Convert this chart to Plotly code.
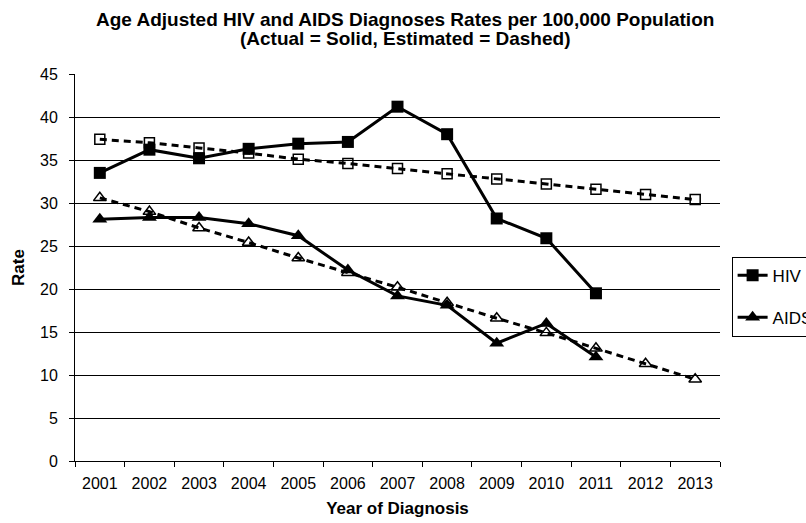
import plotly.graph_objects as go

years = ["2001", "2002", "2003", "2004", "2005", "2006", "2007",
         "2008", "2009", "2010", "2011", "2012", "2013"]

hiv_actual = [33.5, 36.2, 35.2, 36.3, 36.9, 37.1, 41.2, 38.0, 28.2, 25.9, 19.5]
hiv_estimated = [37.4, 37.0, 36.4, 35.8, 35.1, 34.6, 34.0, 33.4, 32.8, 32.2, 31.6, 31.0, 30.4]
aids_actual = [28.1, 28.3, 28.3, 27.6, 26.2, 22.2, 19.2, 18.1, 13.7, 16.0, 12.1]
aids_estimated = [30.6, 29.0, 27.1, 25.4, 23.6, 21.9, 20.2, 18.4, 16.6, 14.9, 13.1, 11.3, 9.5]

title_lines = ["Age Adjusted HIV and AIDS Diagnoses Rates per 100,000 Population",
               "(Actual = Solid, Estimated = Dashed)"]

FONT = "Liberation Sans, Arial, sans-serif"
DASH = "7px,5px"

fig = go.Figure()

# Estimated series (dashed, open markers) drawn first so actuals sit on top
fig.add_trace(go.Scatter(
    x=years, y=hiv_estimated, mode="lines+markers", showlegend=False,
    line=dict(color="black", width=3, dash=DASH),
    marker=dict(symbol="square-open", size=10, color="black", line=dict(width=1.5)),
))
fig.add_trace(go.Scatter(
    x=years, y=aids_estimated, mode="lines+markers", showlegend=False,
    line=dict(color="black", width=3, dash=DASH),
    marker=dict(symbol="triangle-up-open", size=11, color="black", line=dict(width=1.5)),
))

# Actual series (solid, filled markers)
fig.add_trace(go.Scatter(
    x=years[:len(hiv_actual)], y=hiv_actual, mode="lines+markers", name="HIV",
    legendgroup="hiv",
    line=dict(color="black", width=3),
    marker=dict(symbol="square", size=12, color="black"),
))
fig.add_trace(go.Scatter(
    x=years[:len(aids_actual)], y=aids_actual, mode="lines+markers", name="AIDS",
    legendgroup="aids",
    line=dict(color="black", width=3),
    marker=dict(symbol="triangle-up", size=13, color="black"),
))

# Two-line chart title, set as annotations for tighter line spacing
for text, ypos in zip(title_lines, [1.140, 1.091]):
    fig.add_annotation(
        text=f"<b>{text}</b>", xref="paper", yref="paper",
        x=0.512, y=ypos, xanchor="center", yanchor="middle",
        showarrow=False, font=dict(family=FONT, size=19, color="black"),
    )

fig.update_layout(
    width=806, height=523,
    margin=dict(l=75, r=86, t=74, b=62, autoexpand=False),
    paper_bgcolor="white", plot_bgcolor="white",
    font=dict(family=FONT, size=16, color="black"),
    legend=dict(
        x=1.018, xanchor="left", y=0.528, yanchor="top",
        bordercolor="black", borderwidth=1, bgcolor="white",
        font=dict(family=FONT, size=17, color="black"),
        traceorder="grouped", tracegroupgap=17,
    ),
    showlegend=True,
)

fig.update_xaxes(
    type="category", categoryorder="array", categoryarray=years,
    range=[-0.5, 12.5],
    showline=True, linecolor="black", linewidth=1,
    ticks="outside", tickson="boundaries", ticklen=5, tickcolor="black",
    showgrid=False, zeroline=False,
    tickfont=dict(family=FONT, size=16),
    ticklabelstandoff=8,
    title=dict(text="<b>Year of Diagnosis</b>", font=dict(family=FONT, size=17), standoff=10),
)
fig.update_yaxes(
    range=[0, 45], dtick=5,
    showline=True, linecolor="black", linewidth=1,
    ticks="outside", ticklen=5, tickcolor="black",
    showgrid=True, gridcolor="black", gridwidth=1,
    zeroline=False,
    tickfont=dict(family=FONT, size=16),
    ticklabelstandoff=8,
    title=dict(text="<b>Rate</b>", font=dict(family=FONT, size=17), standoff=11),
)

fig.write_html("out.html")
